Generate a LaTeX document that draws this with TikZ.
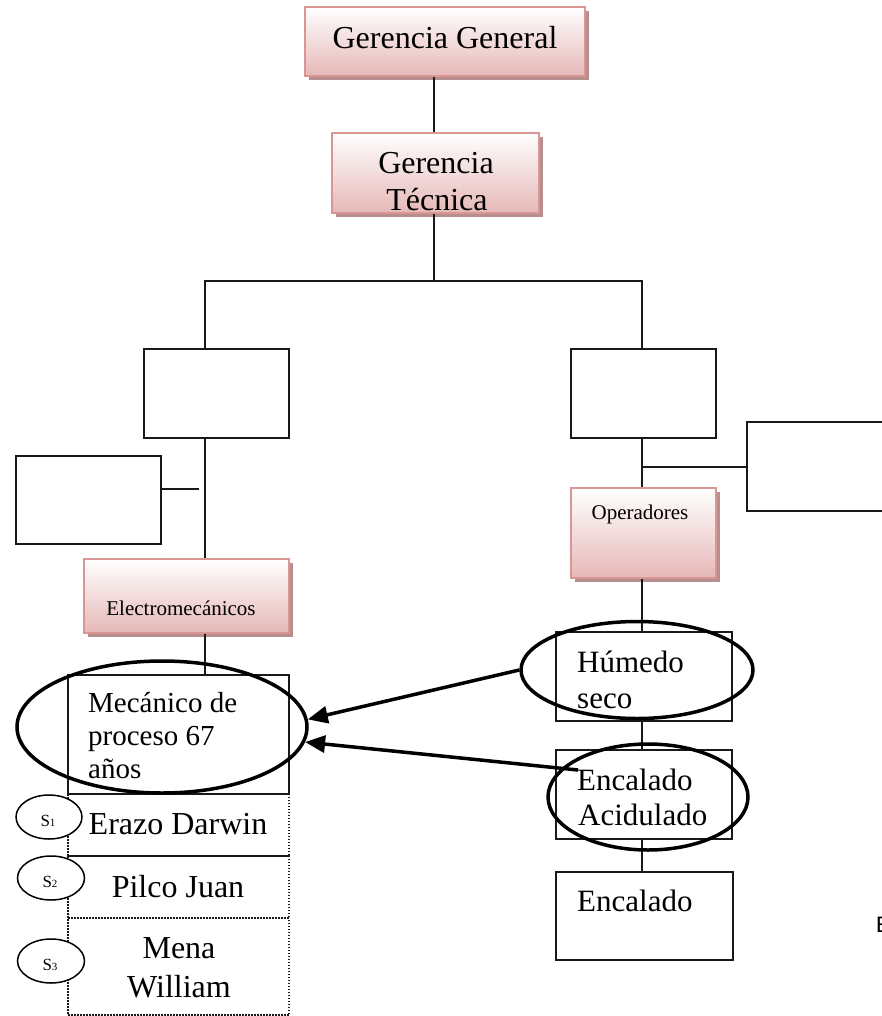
\documentclass[tikz,border=0pt]{standalone}
\usepackage{fontspec}
\setmainfont{Liberation Serif}
\newfontfamily\calfont{Carlito}
\usetikzlibrary{shapes.geometric,shadows,arrows.meta}
\definecolor{pinkedge}{RGB}{217,150,148}
\definecolor{pinkfill}{RGB}{229,184,183}
\definecolor{pinkshadow}{RGB}{182,142,142}
\definecolor{ink}{RGB}{25,25,25}

\begin{document}
\begin{tikzpicture}[x=1pt,y=-1pt,
  pinkbox/.style={rectangle, draw=pinkedge, line width=2pt, top color=white,
    bottom color=pinkfill, inner sep=0pt,
    drop shadow={shadow xshift=4pt, shadow yshift=-4pt, fill=pinkshadow, opacity=1}},
  plainbox/.style={rectangle, draw=ink, line width=2pt, inner sep=0pt},
  dotbox/.style={rectangle, draw=ink, line width=1.5pt,
    dash pattern=on 1.5pt off 1.5pt, inner sep=0pt},
  ring/.style={ellipse, draw=black, line width=3.5pt, inner sep=0pt},
  tag/.style={ellipse, draw=black, line width=1.5pt, fill=white, inner sep=0pt},
  link/.style={draw=ink, line width=2pt},
  pointer/.style={draw=black, line width=3.5pt, -{Triangle[length=20pt,width=17pt]}},
  big/.style={inner sep=0pt, font=\fontsize{32}{32}\selectfont},
  mid/.style={inner sep=0pt, font=\fontsize{31}{31}\selectfont},
  mech/.style={inner sep=0pt, font=\fontsize{29}{29}\selectfont},
  small/.style={inner sep=0pt, font=\fontsize{21}{21}\selectfont},
]
\path[use as bounding box] (0,0) rectangle (882,1016);
\clip (0,0) rectangle (882,1016);

% column positions of the connector lines
\coordinate (lx) at (205,0);
\coordinate (rx) at (642,0);
\coordinate (bus) at (434,281);
\coordinate (sbend) at (199,489);
\coordinate (a2) at (578,770);

% boxes
\node[pinkbox, minimum width=280pt, minimum height=69pt] (gg) at (445,41.5) {};
\node[pinkbox, minimum width=207pt, minimum height=80pt] (gt) at (435.5,173) {};
\node[plainbox, minimum width=145pt, minimum height=89pt] (lb) at (216.5,393.5) {};
\node[plainbox, minimum width=145pt, minimum height=88pt] (sb) at (88.5,500) {};
\node[pinkbox, minimum width=205pt, minimum height=74pt] (em) at (186.5,596) {};
\node[dotbox, minimum width=221pt, minimum height=62pt] (erazo) at (178.5,825) {};
\node[dotbox, minimum width=221pt, minimum height=62pt] (pilco) at (178.5,887) {};
\node[dotbox, minimum width=221pt, minimum height=97pt] (mena) at (178.5,966.5) {};
\node[plainbox, minimum width=221pt, minimum height=119pt] (mec) at (178.5,734.5) {};
\node[plainbox, minimum width=145pt, minimum height=89pt] (rb) at (643.5,393.5) {};
\node[plainbox, minimum width=253pt, minimum height=89pt] (rr) at (873.5,466.5) {};
\node[pinkbox, minimum width=145pt, minimum height=90pt] (op) at (643.5,533) {};
\node[plainbox, minimum width=176pt, minimum height=89pt] (hum) at (644,676.5) {};
\node[plainbox, minimum width=176pt, minimum height=89pt] (enc1) at (644,794.5) {};
\node[plainbox, minimum width=177pt, minimum height=88pt] (enc2) at (644.5,916) {};

% connectors
\draw[link] (gg.south -| bus) -- (gt.north -| bus);
\draw[link] (gt.south -| bus) -- (bus);
\draw[link] (lb.north -| lx) |- (bus) -| (rb.north -| rx);
\draw[link] (lb.south -| lx) -- (em.north -| lx);
\draw[link] (em.south -| lx) -- (mec.north -| lx);
\draw[link] (sb.east |- sbend) -- (sbend);
\draw[link] (rb.south -| rx) -- (op.north -| rx);
\draw[link] (rr.west) -- (rr.west -| rx);
\draw[link] (op.south -| rx) -- (hum.north -| rx);
\draw[link] (hum.south -| rx) -- (enc1.north -| rx);
\draw[link] (enc1.south -| rx) -- (enc2.north -| rx);

% texts
\node[big, anchor=base] (tgg) at (445,49) {Gerencia General};
\node[big, anchor=base] (tgt1) at (436,174) {Gerencia};
\node[big, anchor=base] (tgt2) at (437,211) {Técnica};
\node[small, anchor=base] (tem) at (181,615) {Electromecánicos};
\node[small, anchor=base] (top) at (640,519) {Operadores};
\node[mech, anchor=base west] (tm1) at (88,712) {Mecánico de};
\node[mech, anchor=base west] (tm2) at (88,745) {proceso 67};
\node[mech, anchor=base west] (tm3) at (88,778) {años};
\node[big, anchor=base] (terazo) at (178,834) {Erazo Darwin};
\node[big, anchor=base] (tpilco) at (178,897) {Pilco Juan};
\node[big, anchor=base] (tmena1) at (179,958) {Mena};
\node[big, anchor=base] (tmena2) at (179,997) {William};
\node[mid, anchor=base west] (th1) at (577,672) {Húmedo};
\node[mid, anchor=base west] (th2) at (577,708) {seco};
\node[mid, anchor=base west] (te1) at (577,790) {Encalado};
\node[mid, anchor=base west] (te2) at (578,825) {Acidulado};
\node[mid, anchor=base west] (te3) at (577,911) {Encalado};
\node[inner sep=0pt, anchor=base west, font=\calfont\fontsize{24}{24}\selectfont] (tE) at (876,932) {E};

% highlight rings and pointers
\node[ring, minimum width=290pt, minimum height=132pt] (mecE) at (162,727) {};
\node[ring, minimum width=232pt, minimum height=97pt] (humE) at (637,670) {};
\node[ring, minimum width=200pt, minimum height=106pt] (encE) at (648,797) {};
\draw[pointer] (humE.west) -- (mecE.3);
\draw[pointer] (a2) -- (mecE.-6);

% shift tags
\node[tag, minimum width=66pt, minimum height=44pt] (s1) at (49,817) {};
\node[tag, minimum width=67pt, minimum height=44pt] (s2) at (51,878) {};
\node[tag, minimum width=67pt, minimum height=44pt] (s3) at (51,961) {};
\node[inner sep=0pt, anchor=base] (s1t) at (48,826) {\fontsize{17}{17}\selectfont S\fontsize{11}{11}\selectfont 1};
\node[inner sep=0pt, anchor=base] (s2t) at (50,887) {\fontsize{17}{17}\selectfont S\fontsize{11}{11}\selectfont 2};
\node[inner sep=0pt, anchor=base] (s3t) at (50,970) {\fontsize{17}{17}\selectfont S\fontsize{11}{11}\selectfont 3};
\end{tikzpicture}
\end{document}
